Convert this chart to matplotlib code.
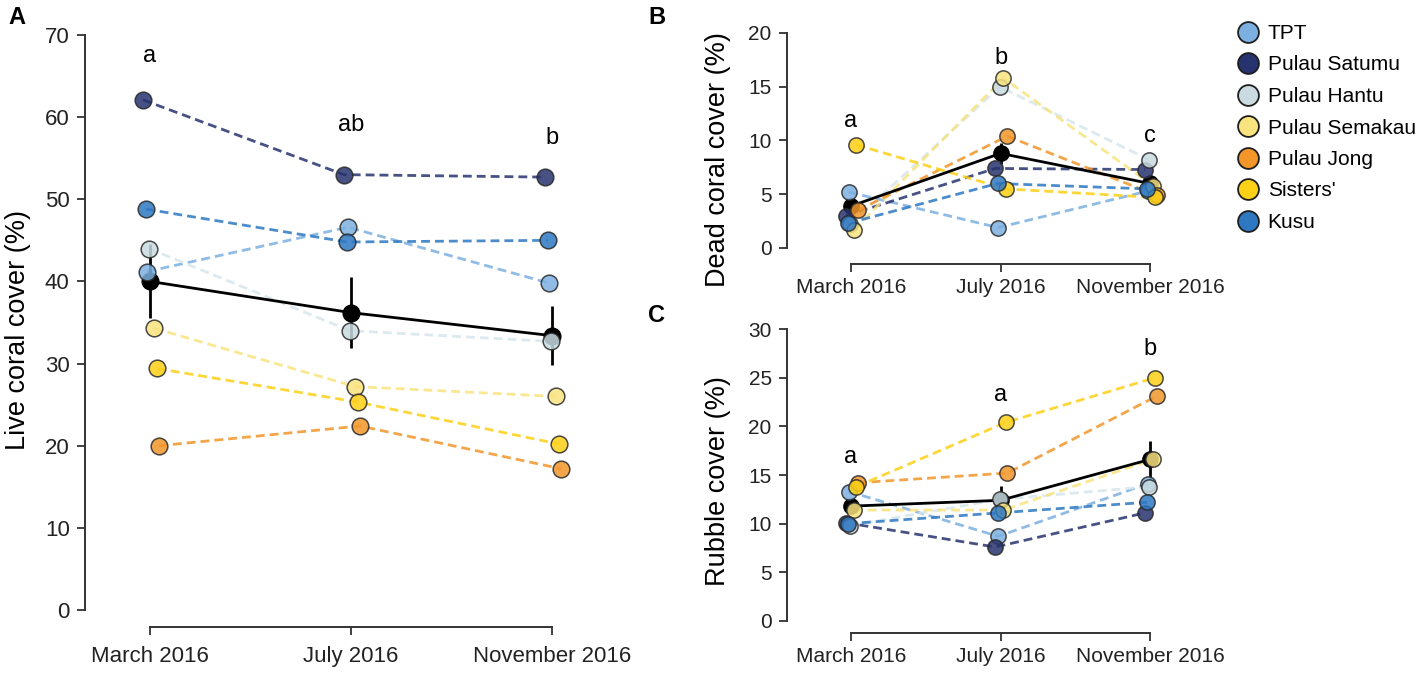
import matplotlib
matplotlib.use("Agg")
import matplotlib.pyplot as plt
from matplotlib.lines import Line2D

plt.rcParams['font.family'] = ['Liberation Sans', 'DejaVu Sans']

times = ["March 2016", "July 2016", "November 2016"]
sites = ["TPT", "Pulau Satumu", "Pulau Hantu", "Pulau Semakau", "Pulau Jong", "Sisters'", "Kusu"]
colors = ["#7cb0e0", "#27336e", "#c9dbe0", "#f8e37e", "#f2962a", "#fdd116", "#2e78c2"]
dodge = [-0.015, -0.035, -0.005, 0.02, 0.045, 0.035, -0.02]

# live coral cover (%)
live = {
    "TPT": [41.2, 46.6, 39.8],
    "Pulau Satumu": [62.1, 53.0, 52.7],
    "Pulau Hantu": [44.0, 34.0, 32.7],
    "Pulau Semakau": [34.3, 27.2, 26.0],
    "Pulau Jong": [20.0, 22.4, 17.2],
    "Sisters'": [29.4, 25.3, 20.2],
    "Kusu": [48.8, 44.8, 45.0],
}
live_mean = [40.0, 36.2, 33.4]
live_se = [4.5, 4.3, 3.6]
live_letters = ["a", "ab", "b"]
live_letter_y = [67.5, 59.0, 57.5]

# dead coral cover (%)
dead = {
    "TPT": [5.2, 1.9, 5.3],
    "Pulau Satumu": [3.0, 7.4, 7.3],
    "Pulau Hantu": [2.2, 15.0, 8.2],
    "Pulau Semakau": [1.7, 15.8, 5.8],
    "Pulau Jong": [3.5, 10.4, 4.9],
    "Sisters'": [9.6, 5.5, 4.7],
    "Kusu": [2.3, 6.0, 5.5],
}
dead_mean = [3.9, 8.8, 6.0]
dead_se = [0.5, 0.95, 0.45]
dead_letters = ["a", "b", "c"]
dead_letter_y = [11.8, 17.7, 10.4]

# rubble cover (%)
rubble = {
    "TPT": [13.3, 8.7, 14.1],
    "Pulau Satumu": [10.1, 7.6, 11.1],
    "Pulau Hantu": [9.8, 12.5, 13.8],
    "Pulau Semakau": [11.4, 11.4, 16.6],
    "Pulau Jong": [14.2, 15.2, 23.1],
    "Sisters'": [13.8, 20.4, 25.0],
    "Kusu": [10.0, 11.1, 12.2],
}
rubble_mean = [11.8, 12.4, 16.6]
rubble_se = [0.6, 1.5, 1.9]
rubble_letters = ["a", "a", "b"]
rubble_letter_y = [16.8, 23.2, 27.9]

W, H = 1416, 680
fig = plt.figure(figsize=(W / 100, H / 100), dpi=100)


def px_axes(left, top, right, bottom):
    return fig.add_axes([left / W, (H - bottom) / H, (right - left) / W, (bottom - top) / H])


def panel(ax, data, mean, se, letters, letter_y, ylabel, yticks, ms, fs, xpad):
    x = range(len(times))
    ax.errorbar(x, mean, yerr=se, color="black", lw=2, marker="o", ms=ms,
                mfc="black", mec="black", capsize=0, zorder=3)
    for s, c, d in zip(sites, colors, dodge):
        xs = [i + d for i in x]
        lc = "#d6e6eb" if s == "Pulau Hantu" else c
        ax.plot(xs, data[s], ls=(0, (3.2, 1.8)), lw=2, color=lc, alpha=0.85, zorder=2)
        ax.plot(xs, data[s], ls="", marker="o", ms=ms, mfc=c, mec="#2a2a2a",
                mew=1.1, alpha=0.85, zorder=4)
    for i, (t, yv) in enumerate(zip(letters, letter_y)):
        ax.text(i, yv, t, ha="center", va="center", fontsize=17)
    for sp in ["top", "right"]:
        ax.spines[sp].set_visible(False)
    ax.spines["left"].set_bounds(yticks[0], yticks[-1])
    ax.spines["bottom"].set_bounds(0, len(times) - 1)
    for sp in ["left", "bottom"]:
        ax.spines[sp].set_color("#333333")
        ax.spines[sp].set_linewidth(1.4)
    ax.set_yticks(yticks)
    ax.set_xticks(list(x))
    ax.set_xticklabels(times)
    ax.tick_params(direction="out", length=6, width=1.3, color="#333333",
                   labelsize=fs, labelcolor="#222222")
    ax.tick_params(axis="y", pad=5)
    ax.tick_params(axis="x", pad=xpad)
    ax.set_ylabel(ylabel, fontsize=19.5)
    ax.set_facecolor("none")


axA = px_axes(85, 20, 620, 627)
axA.set_xlim((85 - 150) / 201, (620 - 150) / 201)
axA.set_ylim(-17 / 8.214, 70 + 15 / 8.214)
panel(axA, live, live_mean, live_se, live_letters, live_letter_y,
      "Live coral cover (%)", list(range(0, 71, 10)), 12, 16, 8)
axA.yaxis.set_label_coords((31 - 85) / 535, 0.49)

axB = px_axes(787, 15, 1235, 264)
axB.set_xlim((787 - 851) / 149.5, (1235 - 851) / 149.5)
axB.set_ylim(-16 / 10.75, 20 + 18 / 10.75)
panel(axB, dead, dead_mean, dead_se, dead_letters, dead_letter_y,
      "Dead coral cover (%)", list(range(0, 21, 5)), 11, 15, 4)
axB.yaxis.set_label_coords((731 - 787) / 448, (264 - 160) / 249)

axC = px_axes(787, 312, 1235, 633)
axC.set_xlim((787 - 851) / 149.5, (1235 - 851) / 149.5)
axC.set_ylim(-12 / 9.733, 30 + 17 / 9.733)
panel(axC, rubble, rubble_mean, rubble_se, rubble_letters, rubble_letter_y,
      "Rubble cover (%)", list(range(0, 31, 5)), 11, 15, 4)
axC.yaxis.set_label_coords((731 - 787) / 448, (633 - 481) / 321)

fig.text(8 / W, 1 - 18 / H, "A", fontsize=17, fontweight="bold", va="center", ha="left")
fig.text(648 / W, 1 - 18 / H, "B", fontsize=17, fontweight="bold", va="center", ha="left")
fig.text(648 / W, 1 - 316 / H, "C", fontsize=17, fontweight="bold", va="center", ha="left")

handles = [Line2D([], [], ls="", marker="o", ms=15, mfc=c, mec="#1e1e1e", mew=1.3)
           for c in colors]
fig.legend(handles, sites, loc="upper left", bbox_to_anchor=(1238 / W, 1 - 24 / H),
           frameon=False, fontsize=15, labelspacing=0.6, handlelength=1.0,
           handletextpad=0.42, borderpad=0, borderaxespad=0)

fig.savefig("out.png", dpi=100, facecolor="white")
